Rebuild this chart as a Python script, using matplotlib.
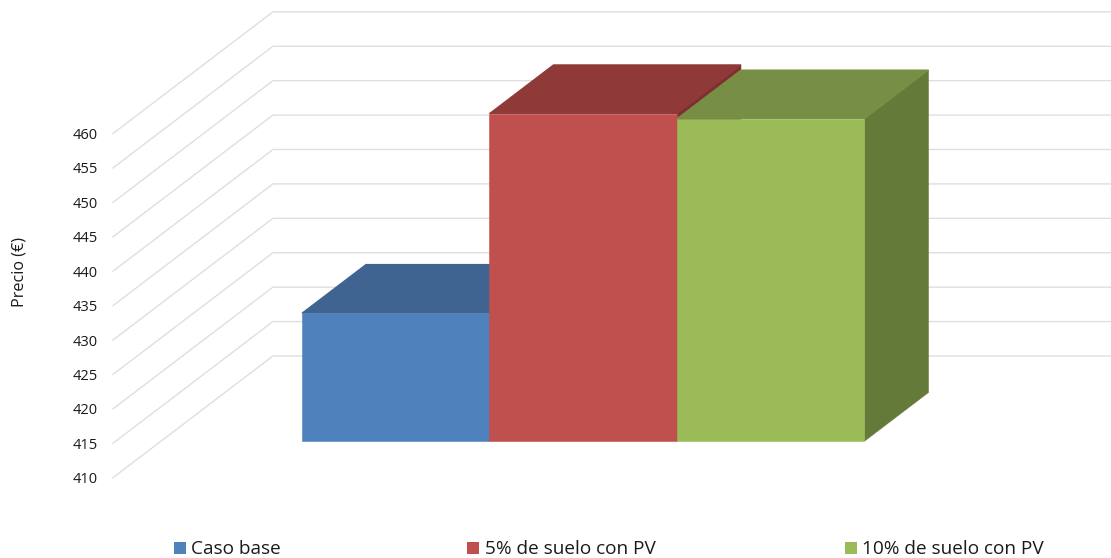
import matplotlib
matplotlib.use("Agg")
import matplotlib.pyplot as plt
from matplotlib.patches import Polygon, Rectangle

plt.rcParams['font.family'] = ['Open Sans', 'DejaVu Sans']

# Chart values
categories = ['Caso base', '5% de suelo con PV', '10% de suelo con PV']
prices = [428.6, 457.6, 456.85]
y_ticks = [410, 415, 420, 425, 430, 435, 440, 445, 450, 455, 460]
front_colors = ['#4F81BD', '#C0504D', '#9BBB59']
top_colors = ['#3F6491', '#8F3A39', '#778F45']
side_colors = ['#3A5A85', '#7E2F2E', '#647A39']

W, H = 1111, 558
DPI = 100

# 3D look: oblique projection, depth 0 is the front of the floor and 1 the back wall
SHIFT_X = 0.853     # category units per full depth
SHIFT_Y = 17.68     # euros per full depth
BAR_FRONT = 0.30
BAR_BACK = 0.70
BASE = 410
WALL_X = -0.752
X_LIM = (-1.3547, 4.5707)


def proj(x, price, depth):
    return x + SHIFT_X * depth, price + SHIFT_Y * depth


fig = plt.figure(figsize=(W / DPI, H / DPI), dpi=DPI)
ax = fig.add_axes([0, 0, 1, 1])
ax.set_xlim(*X_LIM)
ax.set_ylim(398.33, 479.4)
ax.axis('off')

# gridlines: run up the side wall then along the back wall
for t in y_ticks:
    p0 = proj(WALL_X, t, 0)
    p1 = proj(WALL_X, t, 1)
    ax.plot([p0[0], p1[0], X_LIM[1]], [p0[1], p1[1], p1[1]], color='#DFDFDF', lw=1.0,
            solid_joinstyle='miter', zorder=1)

for i, price in enumerate(prices):
    x0, x1 = i, i + 1
    z = 2 + i
    top = [proj(x0, price, BAR_FRONT), proj(x0, price, BAR_BACK),
           proj(x1, price, BAR_BACK), proj(x1, price, BAR_FRONT)]
    side = [proj(x1, BASE, BAR_FRONT), proj(x1, BASE, BAR_BACK),
            proj(x1, price, BAR_BACK), proj(x1, price, BAR_FRONT)]
    front = [proj(x0, BASE, BAR_FRONT), proj(x1, BASE, BAR_FRONT),
             proj(x1, price, BAR_FRONT), proj(x0, price, BAR_FRONT)]
    ax.add_patch(Polygon(side, closed=True, fc=side_colors[i], ec=side_colors[i], lw=0.4, zorder=z))
    ax.add_patch(Polygon(top, closed=True, fc=top_colors[i], ec=top_colors[i], lw=0.8, zorder=z + 0.2))
    ax.add_patch(Polygon(front, closed=True, fc=front_colors[i], ec=front_colors[i], lw=0.4, zorder=z + 0.5))

# value labels beside the front end of each wall line
for v in y_ticks:
    ax.annotate(str(v), xy=proj(WALL_X, v, 0), xytext=(-15, -2), textcoords='offset pixels',
                ha='right', va='center', fontsize=10.5, color='#1A1A1A')

fig.text(20 / W, 1 - 272 / H, 'Precio (€)', rotation=90, ha='center', va='center',
         fontsize=11.6, color='#1A1A1A')

# legend
swatch_x = [174, 467, 845]
text_x = [191, 485, 862]
for name, color, sx, tx in zip(categories, front_colors, swatch_x, text_x):
    fig.add_artist(Rectangle((sx / W, 1 - 554 / H), 12 / W, 12 / H, transform=fig.transFigure,
                             fc=color, ec='none'))
    fig.text(tx / W, 1 - 549 / H, name, ha='left', va='center', fontsize=13.7, color='#1A1A1A')

fig.savefig('out.png', dpi=DPI)
